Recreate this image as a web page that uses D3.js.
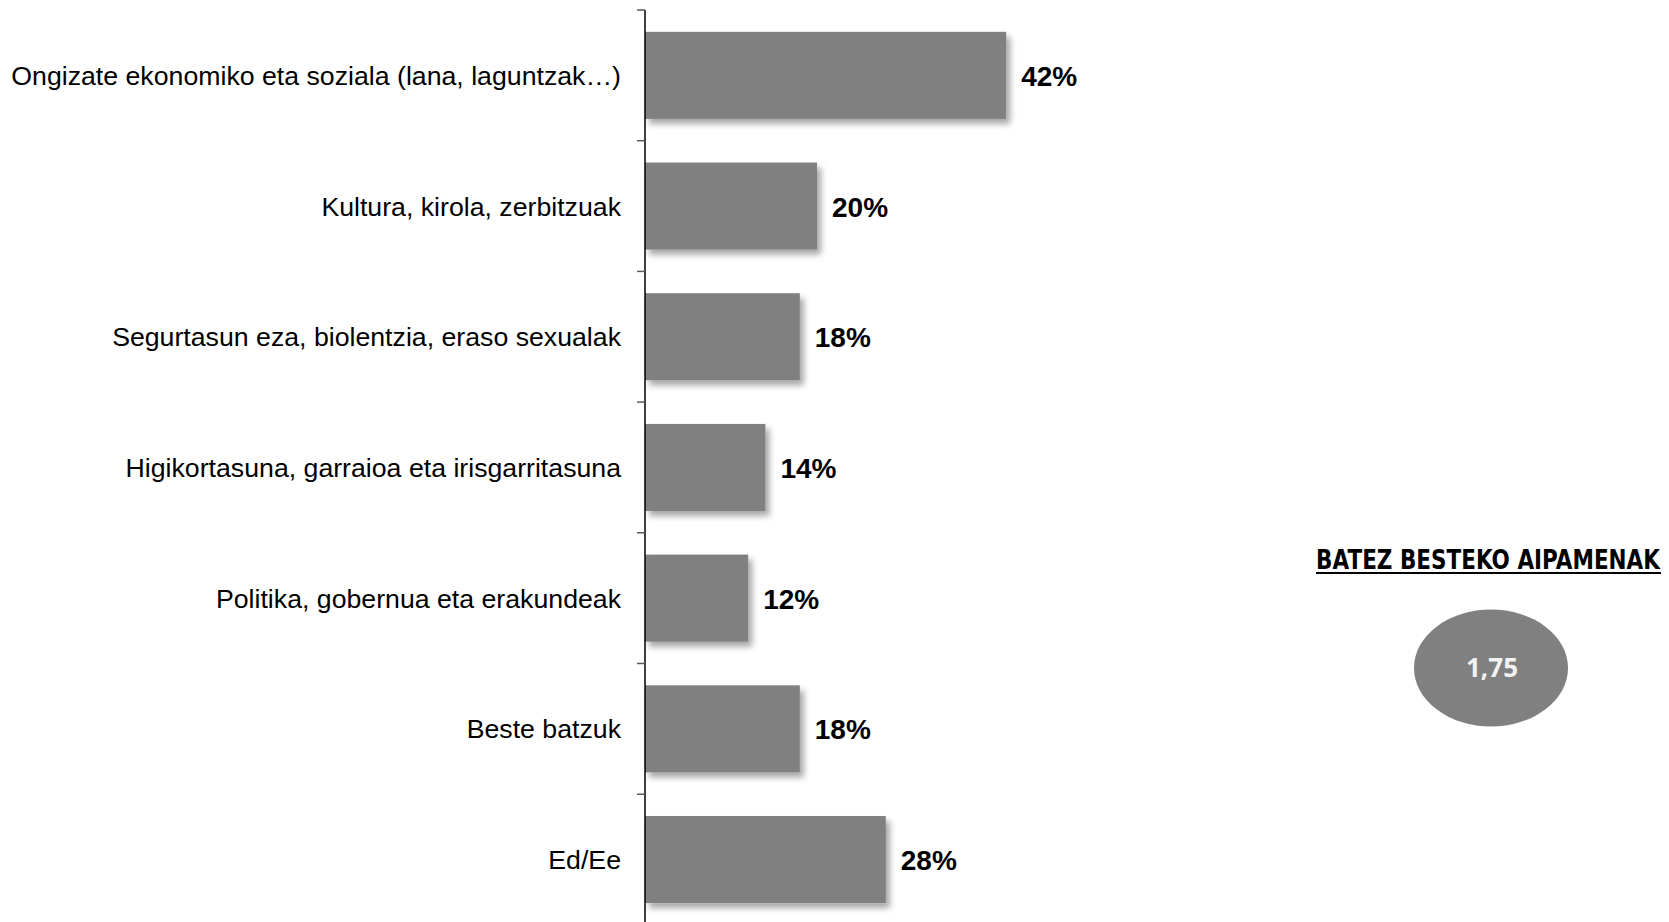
<!DOCTYPE html>
<html>
<head>
<meta charset="utf-8">
<script src="https://cdn.jsdelivr.net/npm/d3@7"></script>
<style>
  html, body { margin: 0; padding: 0; background: #ffffff; }
  svg { display: block; }
</style>
</head>
<body>
<svg id="chart" width="1669" height="922"></svg>
<script>
// Survey answers: share of mentions per topic
const categories = [
  "Ongizate ekonomiko eta soziala (lana, laguntzak…)",
  "Kultura, kirola, zerbitzuak",
  "Segurtasun eza, biolentzia, eraso sexualak",
  "Higikortasuna, garraioa eta irisgarritasuna",
  "Politika, gobernua eta erakundeak",
  "Beste batzuk",
  "Ed/Ee"
];
const values = [42, 20, 18, 14, 12, 18, 28];
const valueLabels = ["42%", "20%", "18%", "14%", "12%", "18%", "28%"];

const averageTitle = "BATEZ BESTEKO AIPAMENAK";
const averageValue = "1,75";

const svg = d3.select("#chart");

// Drop shadow used by the bars
const defs = svg.append("defs");
const shadow = defs.append("filter")
  .attr("id", "barShadow")
  .attr("x", "-10%").attr("y", "-10%")
  .attr("width", "130%").attr("height", "140%");
shadow.append("feDropShadow")
  .attr("dx", 4).attr("dy", 5)
  .attr("stdDeviation", 3)
  .attr("flood-color", "#000")
  .attr("flood-opacity", 0.35);

const axisX = 645;
const x = d3.scaleLinear().domain([0, 100]).range([axisX, axisX + 860]);
const y = d3.scaleBand()
  .domain(categories)
  .range([10, 10 + 7 * 130.7])
  .paddingInner(0.334)
  .paddingOuter(0.167);

// Bars
svg.append("g")
  .selectAll("rect")
  .data(values)
  .join("rect")
  .attr("x", x(0))
  .attr("y", (d, i) => y(categories[i]))
  .attr("width", d => x(d) - x(0))
  .attr("height", y.bandwidth())
  .attr("fill", "#808080")
  .attr("filter", "url(#barShadow)");

// Value labels
svg.append("g")
  .selectAll("text")
  .data(values)
  .join("text")
  .attr("x", d => x(d) + 15)
  .attr("y", (d, i) => y(categories[i]) + y.bandwidth() / 2)
  .attr("dy", "0.38em")
  .attr("font-family", "'Liberation Sans', Arial, sans-serif")
  .attr("font-weight", "bold")
  .attr("font-size", 28)
  .attr("fill", "#000")
  .text((d, i) => valueLabels[i]);

// Category axis: labels from d3.axisLeft, ticks between categories
const yAxis = svg.append("g")
  .attr("transform", `translate(${axisX},0)`)
  .call(d3.axisLeft(y).tickSize(0).tickPadding(24));
yAxis.select(".domain").remove();
yAxis.selectAll("text")
  .attr("dy", "0.36em")
  .attr("font-family", "'Liberation Sans', Arial, sans-serif")
  .attr("font-size", 26.7)
  .attr("fill", "#000");

const [r0, r1] = y.range();
svg.append("line")
  .attr("x1", axisX).attr("x2", axisX)
  .attr("y1", r0).attr("y2", r1)
  .attr("stroke", "#000").attr("stroke-width", 1.5);

const boundaries = d3.range(categories.length + 1).map(i => r0 + i * y.step());
svg.append("g")
  .selectAll("line")
  .data(boundaries)
  .join("line")
  .attr("x1", axisX - 8).attr("x2", axisX)
  .attr("y1", d => d).attr("y2", d => d)
  .attr("stroke", "#595959").attr("stroke-width", 1.5);

// Average mentions box: title squeezed horizontally to a fixed width
const titleWidth = 344;
const titleG = svg.append("g");
const title = titleG.append("text")
  .attr("text-anchor", "middle")
  .attr("font-family", "'DejaVu Sans', sans-serif")
  .attr("font-weight", "bold")
  .attr("font-size", 26)
  .attr("fill", "#000")
  .text(averageTitle);
const natural = title.node().getComputedTextLength();
titleG.attr("transform", `translate(1488,569) scale(${titleWidth / natural},1)`);

svg.append("line")
  .attr("x1", 1316).attr("x2", 1661)
  .attr("y1", 573).attr("y2", 573)
  .attr("stroke", "#000").attr("stroke-width", 2);

svg.append("ellipse")
  .attr("cx", 1491).attr("cy", 668)
  .attr("rx", 77).attr("ry", 58.5)
  .attr("fill", "#808080");

svg.append("text")
  .attr("x", 1492)
  .attr("y", 668)
  .attr("dy", "0.36em")
  .attr("text-anchor", "middle")
  .attr("font-family", "'Open Sans', sans-serif")
  .attr("font-weight", "bold")
  .attr("font-size", 26)
  .attr("fill", "#f2f2f2")
  .text(averageValue);
</script>
</body>
</html>
